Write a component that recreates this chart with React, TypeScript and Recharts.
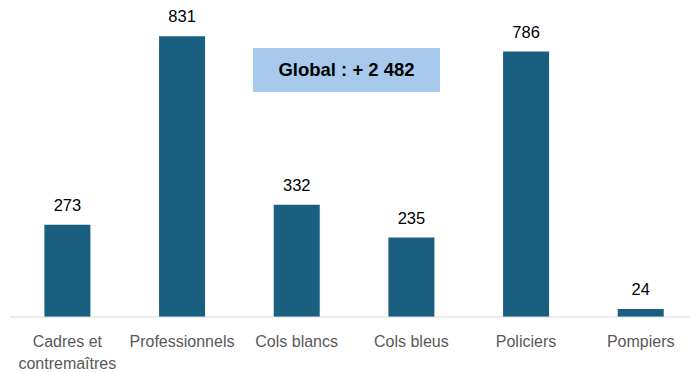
import React from "react";
import { BarChart, Bar, XAxis, YAxis, LabelList, Text } from "recharts";

const categories = [
  "Cadres et contremaîtres",
  "Professionnels",
  "Cols blancs",
  "Cols bleus",
  "Policiers",
  "Pompiers",
];
const values = [273, 831, 332, 235, 786, 24];
const globalLabel = "Global : + 2 482";

const data = categories.map((name, i) => ({ name, value: values[i] }));

const FONT = "'Liberation Sans', Arial, sans-serif";

function CategoryTick({ x, y, payload }: any) {
  return (
    <Text
      x={x}
      y={y}
      dy={11}
      width={112}
      lineHeight={22}
      textAnchor="middle"
      verticalAnchor="start"
      fill="#595959"
      fontSize={16}
      fontFamily={FONT}
    >
      {payload.value}
    </Text>
  );
}

export default function App() {
  return (
    <div
      style={{
        position: "absolute",
        left: 0,
        top: 0,
        width: 690,
        height: 373,
        background: "#fff",
        overflow: "hidden",
      }}
    >
      <BarChart
        width={690}
        height={373}
        data={data}
        margin={{ top: 13, right: -8, bottom: 0, left: 10 }}
        barCategoryGap="30%"
      >
        <XAxis
          dataKey="name"
          interval={0}
          tickLine={false}
          axisLine={{ stroke: "#D9D9D9", strokeWidth: 1 }}
          height={56}
          tick={<CategoryTick />}
        />
        <YAxis hide domain={[0, 900]} />
        <Bar dataKey="value" fill="#1A5F7F" isAnimationActive={false}>
          <LabelList
            dataKey="value"
            position="top"
            offset={14}
            fill="#000"
            fontSize={16.5}
            fontFamily={FONT}
          />
        </Bar>
      </BarChart>
      <div
        style={{
          position: "absolute",
          left: 253,
          top: 48,
          width: 187,
          height: 44,
          background: "#A7CAEC",
          display: "flex",
          alignItems: "center",
          justifyContent: "center",
          fontFamily: FONT,
          fontWeight: 700,
          fontSize: 18.5,
          color: "#000",
        }}
      >
        {globalLabel}
      </div>
    </div>
  );
}
